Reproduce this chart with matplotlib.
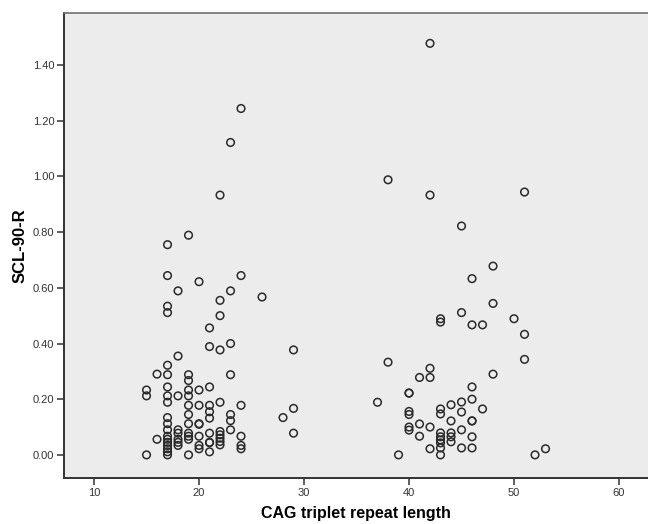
import matplotlib
matplotlib.use("Agg")
import matplotlib.pyplot as plt
from matplotlib.ticker import FormatStrFormatter

plt.rcParams['font.family'] = ['Liberation Sans', 'DejaVu Sans']

# CAG repeat length -> list of SCL-90-R values
cag_15 = [0.233, 0.212, 0.0]
cag_16 = [0.29, 0.056]
cag_17 = [0.755, 0.644, 0.534, 0.511, 0.322, 0.288, 0.244, 0.212, 0.189, 0.134,
          0.112, 0.09, 0.067, 0.056, 0.045, 0.034, 0.022, 0.011, 0.0]
cag_18 = [0.589, 0.355, 0.212, 0.09, 0.078, 0.056, 0.045, 0.034]
cag_19 = [0.789, 0.288, 0.267, 0.233, 0.212, 0.178, 0.145, 0.112, 0.078, 0.067, 0.056, 0.0]
cag_20 = [0.622, 0.233, 0.178, 0.112, 0.11, 0.067, 0.034, 0.022]
cag_21 = [0.456, 0.389, 0.244, 0.178, 0.155, 0.132, 0.078, 0.045, 0.044, 0.011]
cag_22 = [0.933, 0.555, 0.50, 0.377, 0.189, 0.084, 0.072, 0.06, 0.048, 0.036]
cag_23 = [1.122, 0.589, 0.40, 0.288, 0.145, 0.123, 0.09]
cag_24 = [1.244, 0.644, 0.178, 0.067, 0.034, 0.022]
cag_26 = [0.567]
cag_28 = [0.134]
cag_29 = [0.377, 0.167, 0.078]
cag_37 = [0.189]
cag_38 = [0.988, 0.333]
cag_39 = [0.0]
cag_40 = [0.222, 0.222, 0.156, 0.145, 0.10, 0.089]
cag_41 = [0.278, 0.111, 0.067]
cag_42 = [1.478, 0.933, 0.311, 0.278, 0.10, 0.022]
cag_43 = [0.489, 0.477, 0.165, 0.147, 0.079, 0.065, 0.054, 0.043, 0.025, 0.0]
cag_44 = [0.18, 0.122, 0.079, 0.065, 0.047]
cag_45 = [0.822, 0.511, 0.19, 0.154, 0.09, 0.025]
cag_46 = [0.633, 0.467, 0.244, 0.2, 0.122, 0.122, 0.065, 0.025]
cag_47 = [0.467, 0.165]
cag_48 = [0.678, 0.544, 0.29]
cag_50 = [0.489]
cag_51 = [0.944, 0.433, 0.343]
cag_52 = [0.0]
cag_53 = [0.022]

groups = {15: cag_15, 16: cag_16, 17: cag_17, 18: cag_18, 19: cag_19, 20: cag_20,
          21: cag_21, 22: cag_22, 23: cag_23, 24: cag_24, 26: cag_26, 28: cag_28,
          29: cag_29, 37: cag_37, 38: cag_38, 39: cag_39, 40: cag_40, 41: cag_41,
          42: cag_42, 43: cag_43, 44: cag_44, 45: cag_45, 46: cag_46, 47: cag_47,
          48: cag_48, 50: cag_50, 51: cag_51, 52: cag_52, 53: cag_53}

x_ticks = [10, 20, 30, 40, 50, 60]
y_ticks = [0.0, 0.2, 0.4, 0.6, 0.8, 1.0, 1.2, 1.4]

xs, ys = [], []
for k, vals in groups.items():
    for v in vals:
        xs.append(k)
        ys.append(v)

fig = plt.figure(figsize=(6.48, 5.24), dpi=100)
ax = fig.add_axes([64/648, 1 - 478/524, 1 - 64/648, (478 - 13)/524])
ax.set_facecolor('#ECECEC')

ax.scatter(xs, ys, s=30, facecolors='none', edgecolors='#2a2a2a', linewidths=1.1, zorder=3)

ax.set_xlim(7.14, 62.76)
ax.set_ylim(-0.083, 1.587)
ax.set_xticks(x_ticks)
ax.set_yticks(y_ticks)
ax.yaxis.set_major_formatter(FormatStrFormatter('%.2f'))

for side in ['left', 'bottom']:
    ax.spines[side].set_color('#333333')
    ax.spines[side].set_linewidth(1.4)
ax.spines['top'].set_color('#707070')
ax.spines['top'].set_linewidth(1.2)
ax.spines['right'].set_visible(False)

ax.tick_params(axis='both', direction='out', length=5, width=1.1, color='#333333',
               labelsize=8, labelcolor='#333333', pad=2)

ax.set_xlabel('CAG triplet repeat length', fontsize=11.5, fontweight='bold', labelpad=6)
ax.set_ylabel('SCL-90-R', fontsize=12, fontweight='bold', labelpad=4)

fig.savefig('out.png', dpi=100)
